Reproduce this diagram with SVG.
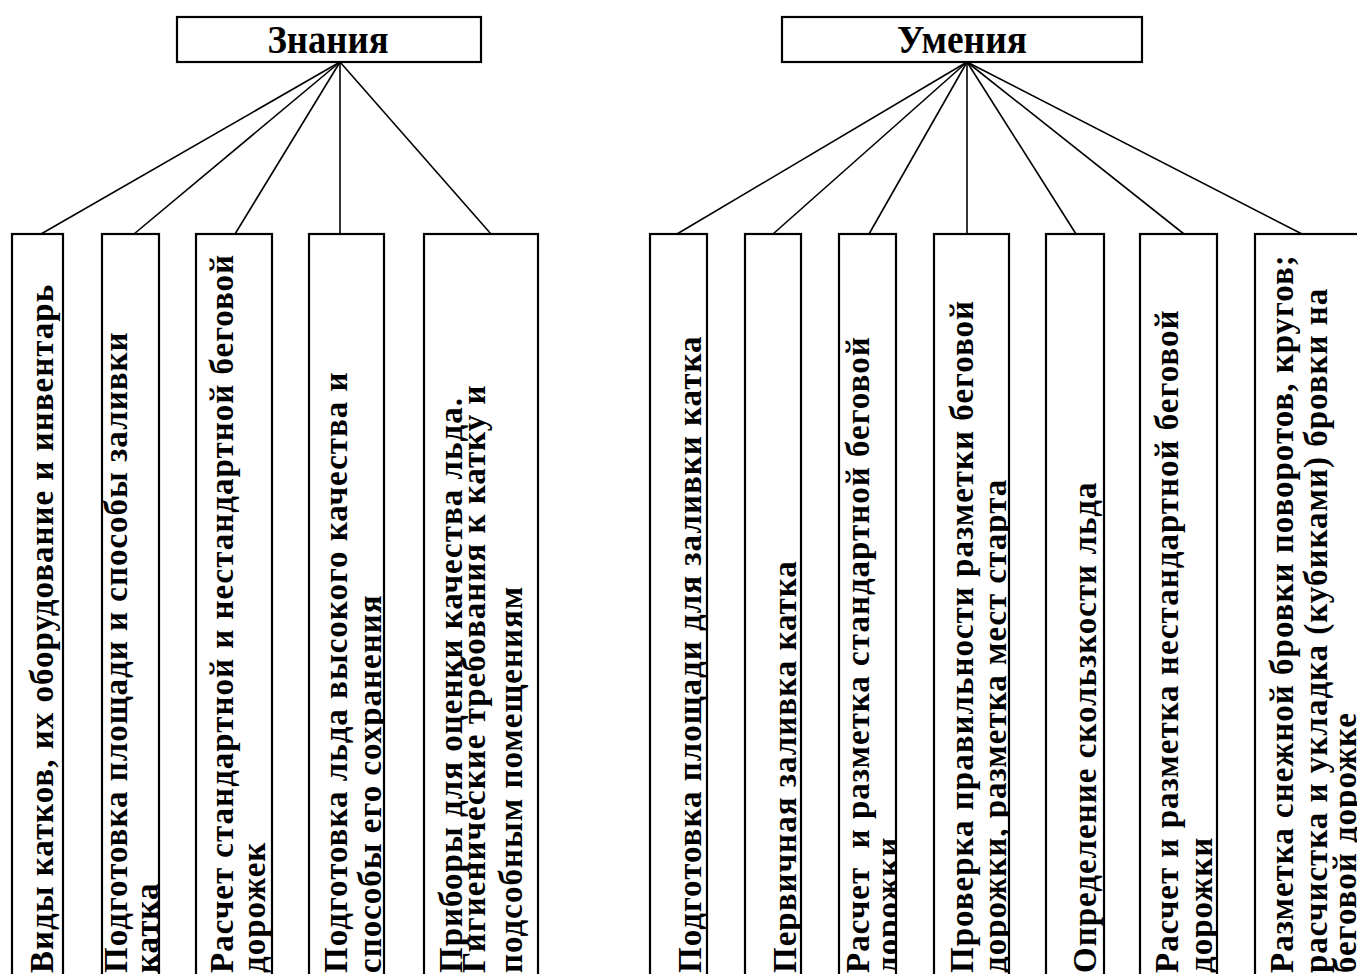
<svg xmlns="http://www.w3.org/2000/svg" width="1357" height="974" viewBox="0 0 1357 974">
<style>
.box{fill:#fff;stroke:#000;stroke-width:2.2}
.con{stroke:#000;stroke-width:1.6;fill:none}
.h{font-family:"Liberation Serif","Times New Roman",serif;font-weight:bold;font-size:40px;text-anchor:middle;fill:#000}
.t{font-family:"Liberation Serif","Times New Roman",serif;font-weight:bold;font-size:33px;letter-spacing:1px;fill:#000}
</style>
<defs>
<clipPath id="k1"><rect x="12" y="234" width="51" height="760"/></clipPath>
<clipPath id="k2"><rect x="102" y="234" width="57" height="760"/></clipPath>
<clipPath id="k3"><rect x="196" y="234" width="76" height="760"/></clipPath>
<clipPath id="k4"><rect x="309" y="234" width="75" height="760"/></clipPath>
<clipPath id="k5"><rect x="424" y="234" width="114" height="760"/></clipPath>
<clipPath id="u1"><rect x="650" y="234" width="57" height="760"/></clipPath>
<clipPath id="u2"><rect x="745" y="234" width="56" height="760"/></clipPath>
<clipPath id="u3"><rect x="839" y="234" width="57" height="760"/></clipPath>
<clipPath id="u4"><rect x="934" y="234" width="75" height="760"/></clipPath>
<clipPath id="u5"><rect x="1046" y="234" width="58" height="760"/></clipPath>
<clipPath id="u6"><rect x="1140" y="234" width="77" height="760"/></clipPath>
<clipPath id="u7"><rect x="1255" y="234" width="120" height="760"/></clipPath>
</defs>
<g id="connectors">
<line class="con" x1="340" y1="62" x2="41" y2="234"/>
<line class="con" x1="340" y1="62" x2="134" y2="234"/>
<line class="con" x1="340" y1="62" x2="235" y2="234"/>
<line class="con" x1="340" y1="62" x2="340" y2="234"/>
<line class="con" x1="340" y1="62" x2="491" y2="234"/>
<line class="con" x1="967" y1="62" x2="677" y2="234"/>
<line class="con" x1="967" y1="62" x2="773" y2="234"/>
<line class="con" x1="967" y1="62" x2="869" y2="234"/>
<line class="con" x1="967" y1="62" x2="967" y2="234"/>
<line class="con" x1="967" y1="62" x2="1076" y2="234"/>
<line class="con" x1="967" y1="62" x2="1184" y2="234"/>
<line class="con" x1="967" y1="62" x2="1302" y2="234"/>
</g>
<g id="znaniya">
<rect class="box" x="177" y="17" width="304" height="45"/>
<text class="h" x="328" y="53" textLength="121" lengthAdjust="spacingAndGlyphs">Знания</text>
</g>
<g id="umeniya">
<rect class="box" x="782" y="17" width="360" height="45"/>
<text class="h" x="962" y="53" textLength="130" lengthAdjust="spacingAndGlyphs">Умения</text>
</g>
<g id="k-1">
<rect class="box" x="12" y="234" width="51" height="760"/>
<g clip-path="url(#k1)"><text class="t" transform="translate(53,973) rotate(-90)">Виды катков, их оборудование и инвентарь</text></g>
</g>
<g id="k-2">
<rect class="box" x="102" y="234" width="57" height="760"/>
<g clip-path="url(#k2)">
<text class="t" transform="translate(127,973) rotate(-90)">Подготовка площади и способы заливки</text>
<text class="t" transform="translate(158,973) rotate(-90)">катка</text>
</g>
</g>
<g id="k-3">
<rect class="box" x="196" y="234" width="76" height="760"/>
<g clip-path="url(#k3)">
<text class="t" transform="translate(233,973) rotate(-90)">Расчет стандартной и нестандартной беговой</text>
<text class="t" transform="translate(265,973) rotate(-90)">дорожек</text>
</g>
</g>
<g id="k-4">
<rect class="box" x="309" y="234" width="75" height="760"/>
<g clip-path="url(#k4)">
<text class="t" transform="translate(347,973) rotate(-90)">Подготовка льда высокого качества и</text>
<text class="t" transform="translate(381,973) rotate(-90)">способы его сохранения</text>
</g>
</g>
<g id="k-5">
<rect class="box" x="424" y="234" width="114" height="760"/>
<g clip-path="url(#k5)">
<text class="t" transform="translate(462,973) rotate(-90)">Приборы для оценки качества льда.</text>
<text class="t" transform="translate(485,973) rotate(-90)">Гигиенические требования к катку и</text>
<text class="t" transform="translate(522,973) rotate(-90)">подсобным помещениям</text>
</g>
</g>
<g id="u-1">
<rect class="box" x="650" y="234" width="57" height="760"/>
<g clip-path="url(#u1)"><text class="t" transform="translate(701,973) rotate(-90)">Подготовка площади для заливки катка</text></g>
</g>
<g id="u-2">
<rect class="box" x="745" y="234" width="56" height="760"/>
<g clip-path="url(#u2)"><text class="t" transform="translate(796,973) rotate(-90)">Первичная заливка катка</text></g>
</g>
<g id="u-3">
<rect class="box" x="839" y="234" width="57" height="760"/>
<g clip-path="url(#u3)">
<text class="t" transform="translate(869,973) rotate(-90)" xml:space="preserve">Расчет  и разметка стандартной беговой</text>
<text class="t" transform="translate(899,973) rotate(-90)">дорожки</text>
</g>
</g>
<g id="u-4">
<rect class="box" x="934" y="234" width="75" height="760"/>
<g clip-path="url(#u4)">
<text class="t" transform="translate(973,973) rotate(-90)">Проверка правильности разметки беговой</text>
<text class="t" transform="translate(1006,973) rotate(-90)">дорожки, разметка мест старта</text>
</g>
</g>
<g id="u-5">
<rect class="box" x="1046" y="234" width="58" height="760"/>
<g clip-path="url(#u5)"><text class="t" transform="translate(1096,973) rotate(-90)">Определение скользкости льда</text></g>
</g>
<g id="u-6">
<rect class="box" x="1140" y="234" width="77" height="760"/>
<g clip-path="url(#u6)">
<text class="t" transform="translate(1178,973) rotate(-90)">Расчет и разметка нестандартной беговой</text>
<text class="t" transform="translate(1212,973) rotate(-90)">дорожки</text>
</g>
</g>
<g id="u-7">
<rect class="box" x="1255" y="234" width="120" height="760"/>
<g clip-path="url(#u7)">
<text class="t" transform="translate(1293,973) rotate(-90)">Разметка снежной бровки поворотов, кругов;</text>
<text class="t" transform="translate(1327,973) rotate(-90)">расчистка и укладка (кубиками) бровки на</text>
<text class="t" transform="translate(1356,973) rotate(-90)">беговой дорожке</text>
</g>
</g>
</svg>
